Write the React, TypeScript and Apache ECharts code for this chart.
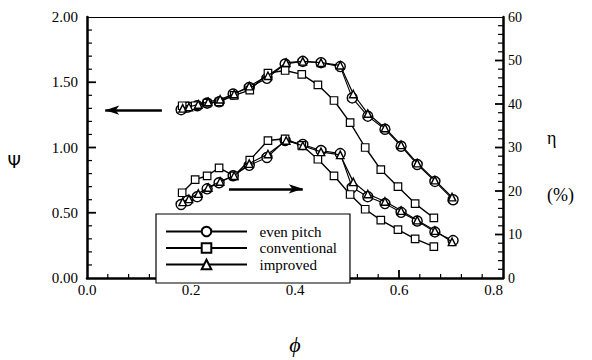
import React, { useEffect, useRef } from "react";
import * as echarts from "echarts";

// Flow coefficient φ at each measured operating point
const phiEven = [0.181, 0.194, 0.212, 0.231, 0.254, 0.281, 0.312, 0.346, 0.381, 0.415, 0.45, 0.487, 0.51, 0.54, 0.573, 0.604, 0.635, 0.669, 0.704];
const psiEven = [1.29, 1.31, 1.32, 1.34, 1.35, 1.41, 1.46, 1.53, 1.64, 1.66, 1.65, 1.62, 1.38, 1.24, 1.14, 1.01, 0.87, 0.74, 0.6];
const etaEven = [16.9, 17.8, 18.7, 20.5, 21.9, 23.5, 25.9, 27.7, 31.6, 30.7, 29.3, 28.6, 20.8, 18.7, 17.1, 15.1, 13.1, 10.6, 8.6];

const phiConv = [0.183, 0.208, 0.231, 0.254, 0.283, 0.313, 0.348, 0.381, 0.413, 0.444, 0.475, 0.506, 0.535, 0.565, 0.598, 0.631, 0.667];
const psiConv = [1.32, 1.32, 1.34, 1.35, 1.4, 1.44, 1.57, 1.59, 1.56, 1.48, 1.36, 1.19, 1.0, 0.83, 0.7, 0.57, 0.46];
const etaConv = [19.6, 22.6, 23.5, 25.3, 23.5, 27.1, 31.6, 32.0, 30.5, 27.3, 23.5, 19.2, 15.8, 13.3, 11.1, 9.0, 7.2];

const phiImpr = [0.184, 0.196, 0.214, 0.233, 0.256, 0.283, 0.312, 0.348, 0.383, 0.415, 0.45, 0.487, 0.512, 0.54, 0.573, 0.604, 0.635, 0.669, 0.702];
const psiImpr = [1.3, 1.31, 1.33, 1.35, 1.37, 1.41, 1.47, 1.55, 1.65, 1.66, 1.65, 1.63, 1.41, 1.26, 1.15, 1.02, 0.88, 0.75, 0.62];
const etaImpr = [17.5, 18.2, 19.4, 20.8, 22.2, 23.5, 26.3, 28.5, 31.6, 30.4, 29.0, 28.3, 22.1, 19.3, 17.6, 15.5, 13.3, 10.9, 8.3];

const seriesNames = ["even pitch", "conventional", "improved"];

// Axis ranges and tick spacing (major step, number of minor steps per major)
const PHI_MAX = 0.8;
const PHI_STEP = 0.2;
const PSI_MAX = 2;
const PSI_STEP = 0.5;
const ETA_MAX = 60;
const ETA_STEP = 10;
const MINOR_SPLIT = 5;

// Arrows pointing each curve family to its axis
const psiArrow = { from: [0.144, 1.286], to: [0.035, 1.286] };
const etaArrow = { from: [0.273, 20.5], to: [0.415, 20.5] };

const SERIF = "'Liberation Serif', 'DejaVu Serif', serif";

const zip = (xs: number[], ys: number[]) => xs.map((x, i) => [x, ys[i]]);

// Inward tick marks: [side, value, isMajor]; side 0 = bottom, 1 = left, 2 = right
function tickRows(side: number, max: number, step: number) {
  const rows: number[][] = [];
  const count = Math.round((max / step) * MINOR_SPLIT);
  for (let i = 1; i < count; i++) {
    rows.push([side, (i * step) / MINOR_SPLIT, i % MINOR_SPLIT === 0 ? 1 : 0]);
  }
  return rows;
}

const TICK_LEN: Record<number, number[]> = { 0: [4, 8], 1: [5, 9], 2: [5, 8] };

function renderTick(params: any, api: any) {
  const side = api.value(0);
  const v = api.value(1);
  const major = api.value(2) === 1;
  const len = TICK_LEN[side][major ? 1 : 0];
  let p: number[];
  let shape: any;
  if (side === 0) {
    p = api.coord([v, 0]);
    shape = { x1: p[0], y1: p[1], x2: p[0], y2: p[1] - len };
  } else if (side === 1) {
    p = api.coord([0, v]);
    shape = { x1: p[0], y1: p[1], x2: p[0] + len, y2: p[1] };
  } else {
    p = api.coord([PHI_MAX, v]);
    shape = { x1: p[0], y1: p[1], x2: p[0] - len, y2: p[1] };
  }
  return {
    type: "line",
    shape,
    style: { stroke: "#000", lineWidth: major ? 1.8 : 1.2 },
  };
}

function tickSeries(rows: number[][], yAxisIndex: number) {
  return {
    type: "custom",
    xAxisIndex: 0,
    yAxisIndex,
    silent: true,
    clip: false,
    z: 1,
    encode: { x: 1, y: 1 },
    data: rows,
    renderItem: renderTick,
  };
}

const styles: Record<string, any> = {
  "even pitch": { symbol: "circle", symbolSize: 10, lineWidth: 1.1, border: 1.4 },
  conventional: { symbol: "rect", symbolSize: 7.5, lineWidth: 1.4, border: 1.2 },
  improved: { symbol: "triangle", symbolSize: 7.5, lineWidth: 1.2, border: 1.4 },
};

function makeSeries(name: string, data: number[][], yAxisIndex: number, z: number, arrow?: any) {
  const s = styles[name];
  const series: any = {
    name,
    type: "line",
    xAxisIndex: 0,
    yAxisIndex,
    data,
    z,
    symbol: s.symbol,
    symbolSize: s.symbolSize,
    showAllSymbol: true,
    lineStyle: { color: "#000", width: s.lineWidth },
    itemStyle: { color: "#fff", borderColor: "#000", borderWidth: s.border },
    emphasis: { disabled: true },
  };
  if (arrow) {
    series.markLine = {
      silent: true,
      symbol: ["none", "arrow"],
      symbolSize: [7, 14],
      label: { show: false },
      lineStyle: { color: "#000", width: 2.5, type: "solid" },
      data: [[{ coord: arrow.from }, { coord: arrow.to }]],
    };
  }
  return series;
}

const axisLine = (width: number) => ({ show: true, onZero: false, lineStyle: { color: "#000", width } });
const noTicks = { show: false };

export default function App() {
  const ref = useRef<HTMLDivElement>(null);

  useEffect(() => {
    if (!ref.current) return;
    const chart = echarts.init(ref.current, undefined, { renderer: "svg" });

    chart.setOption({
      animation: false,
      backgroundColor: "#fff",
      grid: { left: 87, right: 89, top: 17, bottom: 77 },
      legend: {
        data: seriesNames,
        orient: "vertical",
        left: 156,
        top: 214,
        padding: [10, 13, 11, 9],
        itemWidth: 81,
        itemHeight: 12,
        itemGap: 1.5,
        borderColor: "#000",
        borderWidth: 1.2,
        backgroundColor: "#fff",
        selectedMode: false,
        formatter: (n: string) => "\u00a0\u00a0" + n,
        textStyle: { fontFamily: SERIF, fontSize: 15, lineHeight: 13, color: "#000" },
      },
      xAxis: [
        {
          type: "value",
          position: "bottom",
          min: 0,
          max: PHI_MAX,
          interval: PHI_STEP,
          name: "ϕ",
          nameLocation: "middle",
          nameGap: 55,
          nameTextStyle: { fontFamily: SERIF, fontStyle: "italic", fontSize: 22, color: "#000" },
          axisLine: axisLine(2.5),
          axisTick: noTicks,
          minorTick: noTicks,
          axisLabel: {
            show: true,
            fontFamily: SERIF,
            fontSize: 15,
            color: "#000",
            margin: 4,
            alignMaxLabel: "right",
            formatter: (v: number) => v.toFixed(1),
          },
          splitLine: { show: false },
        },
        {
          // plain frame line along the top of the plot
          type: "value",
          position: "top",
          min: 0,
          max: PHI_MAX,
          interval: PHI_STEP,
          axisLine: axisLine(1.2),
          axisTick: noTicks,
          minorTick: noTicks,
          axisLabel: { show: false },
          splitLine: { show: false },
        },
      ],
      yAxis: [
        {
          type: "value",
          position: "left",
          min: 0,
          max: PSI_MAX,
          interval: PSI_STEP,
          name: "\nΨ",
          nameLocation: "middle",
          nameRotate: 0,
          nameGap: 66,
          nameTextStyle: { fontFamily: "'DejaVu Sans', sans-serif", fontSize: 17, color: "#000", lineHeight: 28 },
          axisLine: axisLine(2.5),
          axisTick: noTicks,
          minorTick: noTicks,
          axisLabel: {
            show: true,
            fontFamily: SERIF,
            fontSize: 15,
            color: "#000",
            margin: 9,
            formatter: (v: number) => v.toFixed(2),
          },
          splitLine: { show: false },
        },
        {
          type: "value",
          position: "right",
          min: 0,
          max: ETA_MAX,
          interval: ETA_STEP,
          name: "\n\nη\n\n\n(%)",
          nameLocation: "middle",
          nameRotate: 0,
          nameGap: 44,
          nameTextStyle: { fontFamily: SERIF, fontSize: 18, color: "#000", lineHeight: 19 },
          axisLine: axisLine(2.5),
          axisTick: noTicks,
          minorTick: noTicks,
          axisLabel: { show: true, fontFamily: SERIF, fontSize: 14, color: "#000", margin: 5 },
          splitLine: { show: false },
        },
      ],
      series: [
        tickSeries([...tickRows(0, PHI_MAX, PHI_STEP), ...tickRows(1, PSI_MAX, PSI_STEP)], 0),
        tickSeries(tickRows(2, ETA_MAX, ETA_STEP), 1),
        makeSeries("even pitch", zip(phiEven, psiEven), 0, 2, psiArrow),
        makeSeries("conventional", zip(phiConv, psiConv), 0, 3),
        makeSeries("improved", zip(phiImpr, psiImpr), 0, 4),
        makeSeries("even pitch", zip(phiEven, etaEven), 1, 2, etaArrow),
        makeSeries("conventional", zip(phiConv, etaConv), 1, 3),
        makeSeries("improved", zip(phiImpr, etaImpr), 1, 4),
      ],
    });

    return () => chart.dispose();
  }, []);

  return (
    <div
      ref={ref}
      style={{ position: "fixed", left: 0, top: 0, width: 592, height: 360 }}
    />
  );
}
